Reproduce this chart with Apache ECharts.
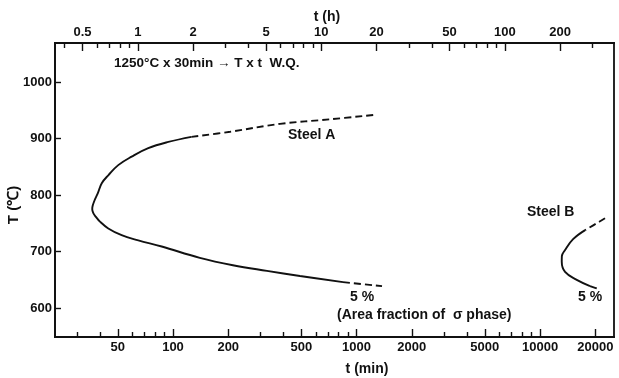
<!DOCTYPE html>
<html>
<head>
<meta charset="utf-8">
<script src="https://cdn.jsdelivr.net/npm/echarts@6/dist/echarts.min.js"></script>
<style>
html, body { margin: 0; padding: 0; background: #fff; }
#chart { width: 619px; height: 378px; }
</style>
</head>
<body>
<div id="chart"></div>
<script>
// times in minutes, temperatures in degC
const steelASolidT = [126, 94.3, 73.3, 59.5, 50.3, 44.4, 40.9, 38.9, 37.3, 36.5, 36.3, 36.8, 37.9, 40.0,
  44.4, 52.5, 64.7, 86.8, 140, 212, 325, 492, 844];
const steelASolidTemp = [903, 894, 883, 868, 853, 835, 821, 803, 790, 781, 775, 768, 762, 753,
  741, 729, 720, 709, 689, 676, 666, 657, 646];
const steelAUpperT = [126, 205, 383, 717, 1260];
const steelAUpperTemp = [903, 912, 926, 934, 942];
const steelALowerT = [844, 1377];
const steelALowerTemp = [646, 639];

const steelBUpperT = [22600, 20300, 17600];
const steelBUpperTemp = [759, 750, 738];
const steelBSolidT = [17600, 15140, 13690, 13150, 13130, 13690, 15850, 18720];
const steelBSolidTemp = [738, 722, 703, 692, 682, 664, 650, 639];
const steelBLowerT = [18720, 21250];
const steelBLowerTemp = [639, 633];

// tick labels
const minLabelTicks = [50, 100, 200, 500, 1000, 2000, 5000, 10000, 20000];
const minMinorTicks = [30, 40, 60, 70, 80, 90, 300, 400, 600, 700, 800, 900,
  3000, 4000, 6000, 7000, 8000, 9000];
const hourLabelTicks = [0.5, 1, 2, 5, 10, 20, 50, 100, 200];
const hourMinorTicks = [0.4, 0.6, 0.7, 0.8, 0.9, 3, 4, 6, 7, 8, 9, 30, 40,
  60, 70, 80, 90, 300];
const tempTicks = [600, 700, 800, 900, 1000];

const lg = Math.log10;
const pts = (ts, temps) => ts.map((t, i) => [lg(t), temps[i]]);
const fmtLog = v => String(+Math.pow(10, v).toPrecision(3));

const FONT = 'Liberation Sans, Arial, sans-serif';
const INK = '#111';

// axis extents in log10 units; top scale sits a few px right in the scan
const minExtent = [1.357, 4.403];
const hourExtent = [-0.451, 2.595];
const tempExtent = [549, 1069];

const gridBox = { left: 55, right: 5, top: 43, bottom: 41 };

const tickFont = { color: INK, fontFamily: FONT, fontSize: 13, fontWeight: 'bold' };

function xAxisOf(grid, pos, ext, ticks, len, withLabels) {
    return {
        type: 'value', gridIndex: grid, position: pos,
        min: ext[0], max: ext[1],
        axisLine: { show: true, onZero: false, lineStyle: { color: INK, width: 1.8 } },
        axisTick: {
            show: true, inside: true, length: len,
            customValues: ticks.map(lg),
            lineStyle: { color: INK, width: 1.4 }
        },
        axisLabel: Object.assign({
            show: withLabels, margin: 4,
            customValues: ticks.map(lg),
            formatter: fmtLog
        }, tickFont),
        splitLine: { show: false }
    };
}

function yAxisOf(grid, withLabels) {
    return {
        type: 'value', gridIndex: grid,
        min: tempExtent[0], max: tempExtent[1],
        axisLine: { show: withLabels, onZero: false, lineStyle: { color: INK, width: 1.8 } },
        axisTick: {
            show: withLabels, inside: true, length: 6,
            customValues: tempTicks,
            lineStyle: { color: INK, width: 1.4 }
        },
        axisLabel: Object.assign({
            show: withLabels, margin: 3,
            customValues: tempTicks,
            formatter: v => String(v)
        }, tickFont),
        splitLine: { show: false }
    };
}

function curve(name, data, dashed) {
    return {
        name: name, type: 'line', xAxisIndex: 0, yAxisIndex: 0,
        data: data, symbol: 'none', smooth: 0.4,
        lineStyle: { color: INK, width: 1.9, type: dashed ? [7, 4] : 'solid' },
        animation: false
    };
}

function label(text, x, y, size, align, rotation) {
    return {
        type: 'text', x: x, y: y, rotation: rotation || 0,
        style: {
            text: text, fill: INK,
            font: 'bold ' + (size || 13) + 'px ' + FONT,
            textAlign: align || 'left', textVerticalAlign: 'middle'
        }
    };
}

const chart = echarts.init(document.getElementById('chart'));

chart.setOption({
    backgroundColor: '#fff',
    animation: false,
    grid: [
        Object.assign({ show: true, borderColor: INK, borderWidth: 1.8 }, gridBox),
        Object.assign({}, gridBox)
    ],
    xAxis: [
        xAxisOf(0, 'bottom', minExtent, minLabelTicks, 8, true),
        xAxisOf(0, 'top', hourExtent, hourLabelTicks, 8, true),
        xAxisOf(1, 'bottom', minExtent, minMinorTicks, 5, false),
        xAxisOf(1, 'top', hourExtent, hourMinorTicks, 5, false)
    ],
    yAxis: [yAxisOf(0, true), yAxisOf(1, false)],
    series: [
        curve('Steel A', pts(steelASolidT, steelASolidTemp), false),
        curve('Steel A upper', pts(steelAUpperT, steelAUpperTemp), true),
        curve('Steel A lower', pts(steelALowerT, steelALowerTemp), true),
        curve('Steel B', pts(steelBSolidT, steelBSolidTemp), false),
        curve('Steel B upper', pts(steelBUpperT, steelBUpperTemp), true),
        curve('Steel B lower', pts(steelBLowerT, steelBLowerTemp), true)
    ],
    graphic: [
        label('1250\u00b0C x 30min \u2192 T x t  W.Q.', 114, 63, 13.5),
        label('Steel A', 288, 135, 14),
        label('Steel B', 527, 212, 14),
        label('5 %', 350, 297, 14),
        label('5 %', 578, 297, 14),
        label('(Area fraction of  \u03c3 phase)', 337, 315, 14),
        label('t (min)', 367, 369, 14, 'center'),
        label('t (h)', 327, 17, 14, 'center'),
        label('T (\u2103)', 14, 205, 15, 'center', Math.PI / 2)
    ]
});
</script>
</body>
</html>
